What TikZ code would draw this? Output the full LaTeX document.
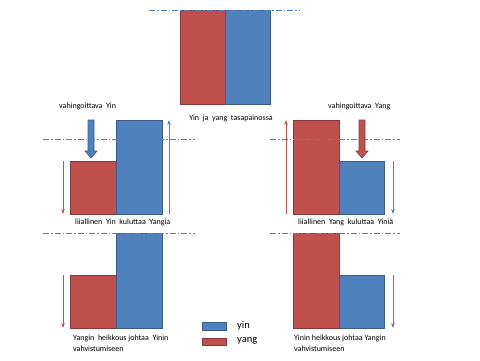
\documentclass[tikz,border=0pt]{standalone}
\usepackage{fontspec}
\setmainfont{Carlito}
\usetikzlibrary{arrows.meta}
\definecolor{yangred}{HTML}{C0504D}
\definecolor{yangedge}{HTML}{8C3836}
\definecolor{yinblue}{HTML}{4F81BD}
\definecolor{yinedge}{HTML}{385D8A}
\tikzset{
  redbar/.style={fill=yangred,draw=yangedge,line width=0.8pt},
  bluebar/.style={fill=yinblue,draw=yinedge,line width=0.8pt},
  level/.style={draw=yinblue,line width=0.6pt,dash pattern=on 6pt off 2pt on 1.5pt off 2pt},
  thinred/.style={draw=yangred,line width=0.6pt,-{Stealth[length=5pt,width=3.5pt]}},
  thinblue/.style={draw=yinblue,line width=0.6pt,-{Stealth[length=5pt,width=3.5pt]}},
  lbl/.style={font=\fontsize{8}{9.5}\selectfont,inner sep=0pt,text=black},
  lbl2/.style={font=\fontsize{8}{11}\selectfont,inner sep=0pt,text=black,anchor=north west,align=left},
  leg/.style={font=\fontsize{10.5}{12}\selectfont,inner sep=0pt,anchor=west}
}
\begin{document}
\begin{tikzpicture}[x=1pt,y=-1pt]
\useasboundingbox (0,0) rectangle (480,360);
% top
\draw[redbar] (180,10) rectangle (225.5,104);
\draw[bluebar] (225.5,10) rectangle (270,104);
\draw[level] (149,10) -- (300,10);
\node[lbl] (tlab) at (231,118) {Yin\ \ ja\ \ yang\ \ tasapainossa};
% middle left
\draw[redbar] (70,161) rectangle (116,214);
\draw[bluebar] (116,120) rectangle (162,214);
\draw[level] (43,139) -- (195,139);
\draw[fill=yinblue,draw=yinedge,line width=0.6pt] (88,120) -- (94,120) -- (94,151) -- (97,151) -- (91,158) -- (85,151) -- (88,151) -- cycle;
\coordinate (mlr1) at (63,161); \coordinate (mlr2) at (63,214);
\draw[thinred] (mlr1) -- (mlr2);
\coordinate (mlb1) at (169,214); \coordinate (mlb2) at (169,120);
\draw[thinblue] (mlb1) -- (mlb2);
\node[lbl,anchor=west] (mlt) at (59,106) {vahingoittava\ \ Yin};
\node[lbl,anchor=west] (mlb) at (75,222) {liiallinen\ \ Yin\ \ kuluttaa\ \ Yangia};
% middle right
\draw[redbar] (293,120) rectangle (339,214);
\draw[bluebar] (339,161) rectangle (384,214);
\draw[level] (270,139) -- (400,139);
\draw[fill=yangred,draw=yangedge,line width=0.6pt] (359,120) -- (365,120) -- (365,151) -- (368,151) -- (362,158) -- (356,151) -- (359,151) -- cycle;
\coordinate (mrr1) at (286,214); \coordinate (mrr2) at (286,120);
\draw[thinred] (mrr1) -- (mrr2);
\coordinate (mrb1) at (393,161); \coordinate (mrb2) at (393,214);
\draw[thinblue] (mrb1) -- (mrb2);
\node[lbl,anchor=west] (mrt) at (328,106) {vahingoittava\ \ Yang};
\node[lbl,anchor=west] (mrb) at (298,222) {liiallinen\ \ Yang\ \ kuluttaa\ \ Yiniä};
% bottom left
\draw[redbar] (70,275) rectangle (116,328);
\draw[bluebar] (116,233) rectangle (162,328);
\draw[level] (43,233) -- (195,233);
\coordinate (blr1) at (63,275); \coordinate (blr2) at (63,328);
\draw[thinred] (blr1) -- (blr2);
\node[lbl2] (blt) at (73,335) {Yangin\ \ heikkous johtaa\ \ Yinin\\vahvistumiseen};
% bottom right
\draw[redbar] (293,233) rectangle (339,328);
\draw[bluebar] (339,275) rectangle (384,328);
\draw[level] (270,233) -- (400,233);
\coordinate (brb1) at (393,275); \coordinate (brb2) at (393,328);
\draw[thinblue] (brb1) -- (brb2);
\node[lbl2] (brt) at (294,335) {Yinin heikkous johtaa Yangin\\vahvistumiseen};
% legend
\draw[bluebar] (202,322) rectangle (226,330);
\draw[redbar] (202,338) rectangle (226,345);
\node[leg] (lyin) at (237,326) {yin};
\node[leg] (lyang) at (237,341) {yang};
\end{tikzpicture}
\end{document}
